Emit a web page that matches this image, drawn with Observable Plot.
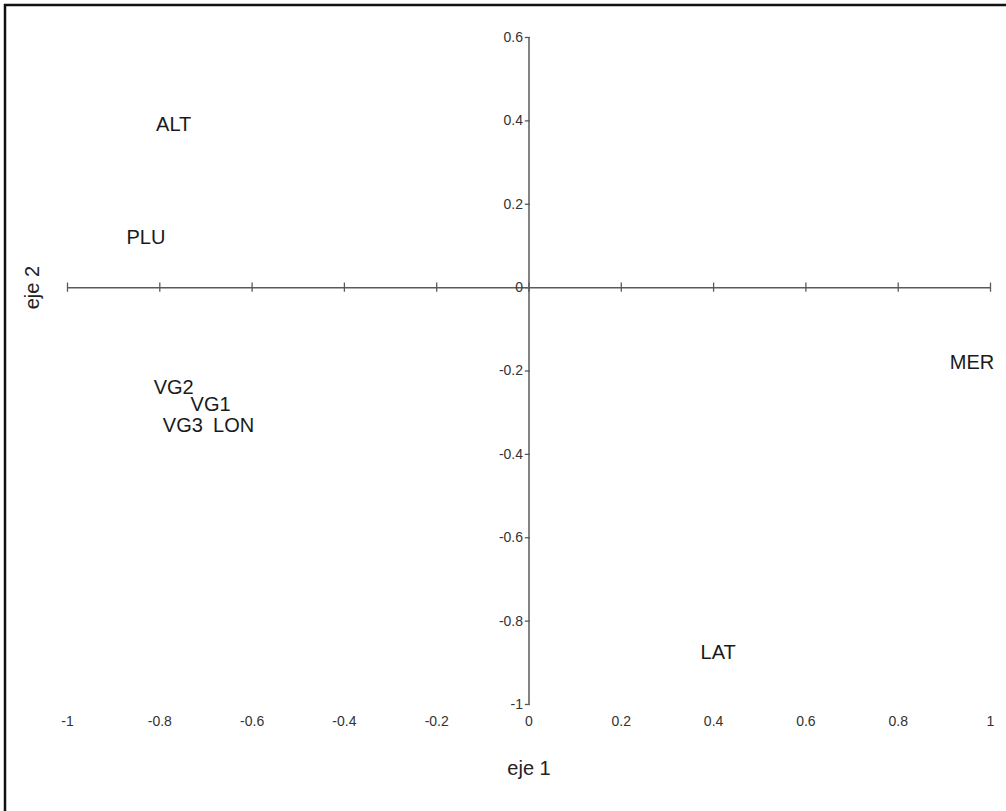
<!DOCTYPE html>
<html>
<head>
<meta charset="utf-8">
<script src="https://cdn.jsdelivr.net/npm/d3@7"></script>
<script src="https://cdn.jsdelivr.net/npm/@observablehq/plot@0.6"></script>
<style>
  html, body { margin: 0; padding: 0; background: #fff; }
  #chart { position: relative; width: 1006px; height: 811px; }
</style>
</head>
<body>
<div id="chart"></div>
<script>
// Variables (labels) and their coordinates on the two factorial axes
const variables = ["ALT", "PLU", "VG2", "VG1", "VG3", "LON", "MER", "LAT"];
const eje1 = [-0.77, -0.83, -0.77, -0.69, -0.75, -0.64, 0.96, 0.41];
const eje2 = [0.39, 0.12, -0.24, -0.28, -0.33, -0.33, -0.18, -0.875];

const xTicks = [-1, -0.8, -0.6, -0.4, -0.2, 0, 0.2, 0.4, 0.6, 0.8, 1];
const yTicks = [0.6, 0.4, 0.2, 0, -0.2, -0.4, -0.6, -0.8, -1];
const xTitle = "eje 1";
const yTitle = "eje 2";

const points = variables.map((v, i) => ({label: v, x: eje1[i], y: eje2[i]}));
const fmt = d => String(d);
const font = "'Liberation Sans', Arial, Helvetica, sans-serif";
const axisColor = "#5a5a5a";

const plot = Plot.plot({
  width: 1006,
  height: 811,
  marginLeft: 67,
  marginRight: 16,
  marginTop: 37,
  marginBottom: 107,
  x: {domain: [-1, 1], axis: null},
  y: {domain: [-1, 0.6], axis: null},
  style: {fontFamily: font, background: "#fff"},
  marks: [
    // horizontal axis through y = 0
    Plot.ruleY([0], {x1: -1, x2: 1, stroke: axisColor, strokeWidth: 1.5}),
    Plot.ruleX(xTicks, {x: d => d, y1: -0.011, y2: 0.011, stroke: axisColor, strokeWidth: 1.3}),
    // vertical axis through x = 0
    Plot.ruleX([0], {y1: -1, y2: 0.6, stroke: axisColor, strokeWidth: 1.5}),
    Plot.ruleY(yTicks, {y: d => d, x1: -0.008, x2: 0.003, stroke: axisColor, strokeWidth: 1.3}),
    // tick labels
    Plot.text(xTicks, {x: d => d, y: -1, dy: 17, text: fmt, fontSize: 14, fill: "#333"}),
    Plot.text(yTicks, {x: 0, y: d => d, dx: -6, text: fmt, textAnchor: "end", fontSize: 14, fill: "#333"}),
    // axis titles
    Plot.text([xTitle], {frameAnchor: "bottom", dy: 70, text: d => d, fontSize: 20, fill: "#222"}),
    Plot.text([yTitle], {x: -1, y: 0, dx: -35, rotate: -90, text: d => d, fontSize: 20, fill: "#222"}),
    // variable labels
    Plot.text(points, {x: "x", y: "y", text: "label", fontSize: 20, fill: "#1a1a1a"})
  ]
});

document.getElementById("chart").appendChild(plot);

// page frame (top and left border of the scanned figure)
const svg = d3.select(plot);
svg.append("line").attr("x1", 4).attr("x2", 1006).attr("y1", 5).attr("y2", 5)
  .attr("stroke", "#111").attr("stroke-width", 2.5);
svg.append("line").attr("x1", 5).attr("x2", 5).attr("y1", 4).attr("y2", 811)
  .attr("stroke", "#111").attr("stroke-width", 2.5);
</script>
</body>
</html>
